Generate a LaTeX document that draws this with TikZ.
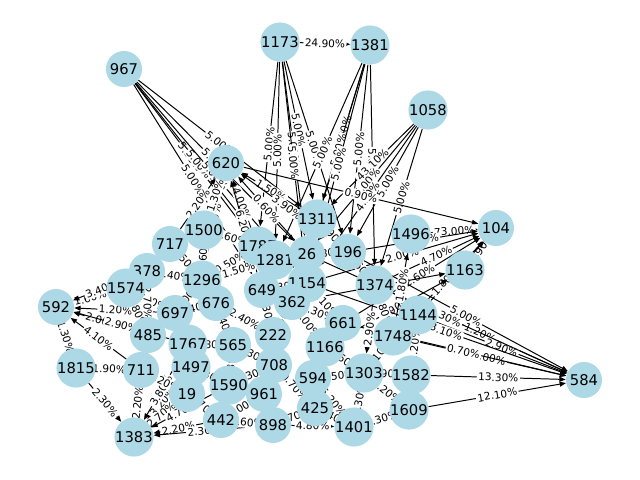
\documentclass[tikz,border=0pt]{standalone}
\usepackage{fontspec}
\setmainfont{DejaVu Sans}
\usetikzlibrary{arrows.meta,backgrounds}
\definecolor{bleuclair}{RGB}{173,216,230}
\begin{document}
\begin{tikzpicture}[x=0.025cm,y=-0.025cm]
            \tikzstyle{sommet}=[circle,fill=bleuclair,minimum size=0.9cm,inner sep=0pt,font=\fontsize{10.5}{12}\selectfont]
            \tikzstyle{arc}=[line width=0.7pt,-{Triangle[length=4.5pt,width=3.5pt]}]
            \tikzstyle{poids}=[midway,sloped,fill=white,rounded corners=2pt,inner sep=1pt,font=\fontsize{7.5}{8}\selectfont]
            \useasboundingbox (0,0) rectangle (640,480);
            % sommets
            \node[sommet] (967) at (124,69) {967};
            \node[sommet] (1173) at (280,42) {1173};
            \node[sommet] (1381) at (370,45) {1381};
            \node[sommet] (1058) at (428,110) {1058};
            \node[sommet] (620) at (226,163) {620};
            \node[sommet] (104) at (496,228) {104};
            \node[sommet] (1311) at (317,219) {1311};
            \node[sommet] (1496) at (411,234) {1496};
            \node[sommet] (1163) at (465,270) {1163};
            \node[sommet] (717) at (170,244) {717};
            \node[sommet] (1500) at (204,230) {1500};
            \node[sommet] (1787) at (258,246) {1787};
            \node[sommet] (1281) at (275,260) {1281};
            \node[sommet] (26) at (307,254) {26};
            \node[sommet] (196) at (348,252) {196};
            \node[sommet] (378) at (147,271) {378};
            \node[sommet] (1296) at (202,280) {1296};
            \node[sommet] (592) at (56,307) {592};
            \node[sommet] (1574) at (126,288) {1574};
            \node[sommet] (649) at (262,290) {649};
            \node[sommet] (1154) at (307,283) {1154};
            \node[sommet] (1374) at (375,285) {1374};
            \node[sommet] (676) at (216,303) {676};
            \node[sommet] (362) at (292,302) {362};
            \node[sommet] (697) at (175,313) {697};
            \node[sommet] (661) at (343,323) {661};
            \node[sommet] (1144) at (418,315) {1144};
            \node[sommet] (485) at (148,335) {485};
            \node[sommet] (1748) at (393,336) {1748};
            \node[sommet] (1767) at (188,344) {1767};
            \node[sommet] (565) at (233,345) {565};
            \node[sommet] (222) at (273,335) {222};
            \node[sommet] (1166) at (325,347) {1166};
            \node[sommet] (1815) at (76,368) {1815};
            \node[sommet] (711) at (141,370) {711};
            \node[sommet] (1497) at (191,367) {1497};
            \node[sommet] (708) at (274,365) {708};
            \node[sommet] (1590) at (229,385) {1590};
            \node[sommet] (594) at (313,378) {594};
            \node[sommet] (1303) at (364,373) {1303};
            \node[sommet] (1582) at (411,375) {1582};
            \node[sommet] (584) at (584,380) {584};
            \node[sommet] (19) at (187,394) {19};
            \node[sommet] (961) at (264,394) {961};
            \node[sommet] (425) at (315,408) {425};
            \node[sommet] (1401) at (354,427) {1401};
            \node[sommet] (1609) at (409,410) {1609};
            \node[sommet] (442) at (221,420) {442};
            \node[sommet] (898) at (273,425) {898};
            \node[sommet] (1383) at (134,437) {1383};
            % arcs
            \begin{pgfonlayer}{background}
            \draw[arc] (967) -- node[poids]{5.00\%} (1787);
            \draw[arc] (967) -- node[poids]{5.00\%} (1281);
            \draw[arc] (967) -- node[poids]{5.00\%} (1311);
            \draw[arc] (967) -- node[poids]{5.00\%} (26);
            \draw[arc] (967) -- node[poids]{5.00\%} (1154);
            \draw[arc] (967) -- node[poids]{5.00\%} (649);
            \draw[arc] (1173) -- node[poids]{5.00\%} (1311);
            \draw[arc] (1173) -- node[poids]{5.00\%} (26);
            \draw[arc] (1173) -- node[poids]{5.00\%} (1787);
            \draw[arc] (1173) -- node[poids]{5.00\%} (1281);
            \draw[arc] (1173) -- node[poids]{5.00\%} (196);
            \draw[arc] (1173) -- node[poids]{5.00\%} (1154);
            \draw[arc] (1173) -- node[poids]{24.90\%} (1381);
            \draw[arc] (1381) -- node[poids]{5.00\%} (1311);
            \draw[arc] (1381) -- node[poids]{5.00\%} (26);
            \draw[arc] (1381) -- node[poids]{5.00\%} (196);
            \draw[arc] (1381) -- node[poids]{5.00\%} (1154);
            \draw[arc] (1381) -- node[poids]{5.00\%} (1281);
            \draw[arc] (1381) -- node[poids]{5.00\%} (1374);
            \draw[arc] (1058) -- node[poids]{5.00\%} (196);
            \draw[arc] (1058) -- node[poids]{43.10\%} (1311);
            \draw[arc] (1058) -- node[poids]{5.00\%} (26);
            \draw[arc] (1058) -- node[poids]{5.00\%} (1374);
            \draw[arc] (1058) -- node[poids]{4.10\%} (1154);
            \draw[arc] (620) -- node[poids]{0.90\%} (104);
            \draw[arc] (1296) -- node[poids]{6.20\%} (620);
            \draw[arc] (1787) -- node[poids]{4.00\%} (620);
            \draw[arc] (1500) -- node[poids]{1.30\%} (620);
            \draw[arc] (717) -- node[poids]{2.20\%} (620);
            \draw[arc] (649) -- node[poids]{6.20\%} (620);
            \draw[arc] (1311) -- node[poids]{1.50\%} (620);
            \draw[arc] (26) -- node[poids]{0.60\%} (620);
            \draw[arc] (196) -- node[poids]{3.90\%} (620);
            \draw[arc] (1496) -- node[poids]{73.00\%} (104);
            \draw[arc] (1163) -- node[poids]{0.90\%} (104);
            \draw[arc] (1374) -- node[poids]{4.70\%} (104);
            \draw[arc] (1144) -- node[poids]{1.70\%} (104);
            \draw[arc] (1748) -- node[poids]{1.80\%} (104);
            \draw[arc] (661) -- node[poids]{2.60\%} (104);
            \draw[arc] (196) -- node[poids]{1.90\%} (104);
            \draw[arc] (1154) -- node[poids]{2.00\%} (104);
            \draw[arc] (1166) -- node[poids]{2.90\%} (1163);
            \draw[arc] (362) -- node[poids]{4.70\%} (1163);
            \draw[arc] (1582) -- node[poids]{13.30\%} (584);
            \draw[arc] (1609) -- node[poids]{12.10\%} (584);
            \draw[arc] (196) -- node[poids]{5.00\%} (584);
            \draw[arc] (1374) -- node[poids]{1.20\%} (584);
            \draw[arc] (1144) -- node[poids]{2.90\%} (584);
            \draw[arc] (1748) -- node[poids]{5.00\%} (584);
            \draw[arc] (661) -- node[poids]{0.70\%} (584);
            \draw[arc] (26) -- node[poids]{1.30\%} (584);
            \draw[arc] (1154) -- node[poids]{3.10\%} (584);
            \draw[arc] (1574) -- node[poids]{1.60\%} (592);
            \draw[arc] (485) -- node[poids]{2.00\%} (592);
            \draw[arc] (697) -- node[poids]{1.20\%} (592);
            \draw[arc] (378) -- node[poids]{3.40\%} (592);
            \draw[arc] (711) -- node[poids]{4.10\%} (592);
            \draw[arc] (1815) -- node[poids]{1.30\%} (592);
            \draw[arc] (1767) -- node[poids]{2.90\%} (592);
            \draw[arc] (1815) -- node[poids]{2.30\%} (1383);
            \draw[arc] (711) -- node[poids]{2.20\%} (1383);
            \draw[arc] (1497) -- node[poids]{3.20\%} (1383);
            \draw[arc] (19) -- node[poids]{2.70\%} (1383);
            \draw[arc] (442) -- node[poids]{2.20\%} (1383);
            \draw[arc] (1590) -- node[poids]{4.70\%} (1383);
            \draw[arc] (898) -- node[poids]{2.30\%} (1383);
            \draw[arc] (1767) -- node[poids]{3.80\%} (1383);
            \draw[arc] (1815) -- node[poids]{1.90\%} (711);
            \draw[arc] (378) -- node[poids]{6.40\%} (1296);
            \draw[arc] (1296) -- node[poids]{0.50\%} (1787);
            \draw[arc] (1296) -- node[poids]{1.50\%} (1281);
            \draw[arc] (1787) -- node[poids]{1.60\%} (26);
            \draw[arc] (676) -- node[poids]{2.40\%} (222);
            \draw[arc] (1590) -- node[poids]{3.30\%} (708);
            \draw[arc] (708) -- node[poids]{0.70\%} (425);
            \draw[arc] (898) -- node[poids]{4.70\%} (425);
            \draw[arc] (898) -- node[poids]{4.80\%} (1401);
            \draw[arc] (961) -- node[poids]{2.00\%} (442);
            \draw[arc] (898) -- node[poids]{1.60\%} (442);
            \draw[arc] (1303) -- node[poids]{6.20\%} (1609);
            \draw[arc] (1401) -- node[poids]{1.30\%} (1609);
            \draw[arc] (1374) -- node[poids]{2.90\%} (1303);
            \draw[arc] (1154) -- node[poids]{4.10\%} (661);
            \draw[arc] (26) -- node[poids]{2.80\%} (196);
            \draw[arc] (1748) -- node[poids]{1.80\%} (1496);
            \draw[arc] (1582) -- node[poids]{1.20\%} (1144);
            \draw[arc] (594) -- node[poids]{5.20\%} (1401);
            \draw[arc] (362) -- node[poids]{3.00\%} (1166);
            \draw[arc] (1497) -- node[poids]{0.80\%} (1767);
            \draw[arc] (1500) -- node[poids]{0.60\%} (1787);
            \draw[arc] (717) -- node[poids]{1.50\%} (1296);
            \draw[arc] (1574) -- node[poids]{4.90\%} (697);
            \draw[arc] (378) -- node[poids]{2.70\%} (485);
            \draw[arc] (1574) -- node[poids]{3.80\%} (485);
            \draw[arc] (697) -- node[poids]{1.40\%} (1767);
            \draw[arc] (485) -- node[poids]{3.10\%} (711);
            \draw[arc] (1296) -- node[poids]{2.50\%} (676);
            \draw[arc] (676) -- node[poids]{1.40\%} (565);
            \draw[arc] (649) -- node[poids]{1.30\%} (222);
            \draw[arc] (1281) -- node[poids]{2.80\%} (649);
            \draw[arc] (1154) -- node[poids]{1.70\%} (362);
            \draw[arc] (362) -- node[poids]{3.50\%} (222);
            \draw[arc] (222) -- node[poids]{0.40\%} (708);
            \draw[arc] (565) -- node[poids]{2.30\%} (708);
            \draw[arc] (1767) -- node[poids]{3.60\%} (1497);
            \draw[arc] (1497) -- node[poids]{2.80\%} (19);
            \draw[arc] (19) -- node[poids]{4.70\%} (442);
            \draw[arc] (1590) -- node[poids]{1.20\%} (961);
            \draw[arc] (961) -- node[poids]{2.60\%} (898);
            \draw[arc] (708) -- node[poids]{1.10\%} (961);
            \draw[arc] (594) -- node[poids]{3.70\%} (425);
            \draw[arc] (1166) -- node[poids]{5.50\%} (594);
            \draw[arc] (661) -- node[poids]{1.40\%} (1166);
            \draw[arc] (1374) -- node[poids]{3.80\%} (1748);
            \draw[arc] (1748) -- node[poids]{2.10\%} (1303);
            \draw[arc] (1303) -- node[poids]{0.90\%} (1582);
            \draw[arc] (1582) -- node[poids]{3.20\%} (1609);
            \draw[arc] (1144) -- node[poids]{1.60\%} (1748);
            \draw[arc] (196) -- node[poids]{4.60\%} (1374);
            \draw[arc] (1311) -- node[poids]{1.90\%} (196);
            \draw[arc] (1311) -- node[poids]{1.80\%} (26);
            \draw[arc] (26) -- node[poids]{1.20\%} (1154);
            \draw[arc] (1787) -- node[poids]{0.70\%} (1281);
            \draw[arc] (649) -- node[poids]{1.30\%} (1154);
            \draw[arc] (362) -- node[poids]{2.30\%} (661);
            \draw[arc] (1166) -- node[poids]{3.60\%} (1303);
            \draw[arc] (594) -- node[poids]{2.50\%} (1303);
            \draw[arc] (425) -- node[poids]{2.40\%} (1401);
            \draw[arc] (1401) -- node[poids]{5.30\%} (1303);
            \draw[arc] (565) -- node[poids]{1.80\%} (1590);
            \draw[arc] (1497) -- node[poids]{2.30\%} (1590);
            \draw[arc] (711) -- node[poids]{3.20\%} (19);
            \draw[arc] (1767) -- node[poids]{0.80\%} (565);
            \draw[arc] (676) -- node[poids]{1.40\%} (697);
            \draw[arc] (1296) -- node[poids]{4.00\%} (697);
            \draw[arc] (717) -- node[poids]{1.70\%} (378);
            \draw[arc] (1500) -- node[poids]{2.10\%} (717);
            \draw[arc] (1500) -- node[poids]{0.60\%} (1296);
            \end{pgfonlayer}
\end{tikzpicture}
\end{document}
